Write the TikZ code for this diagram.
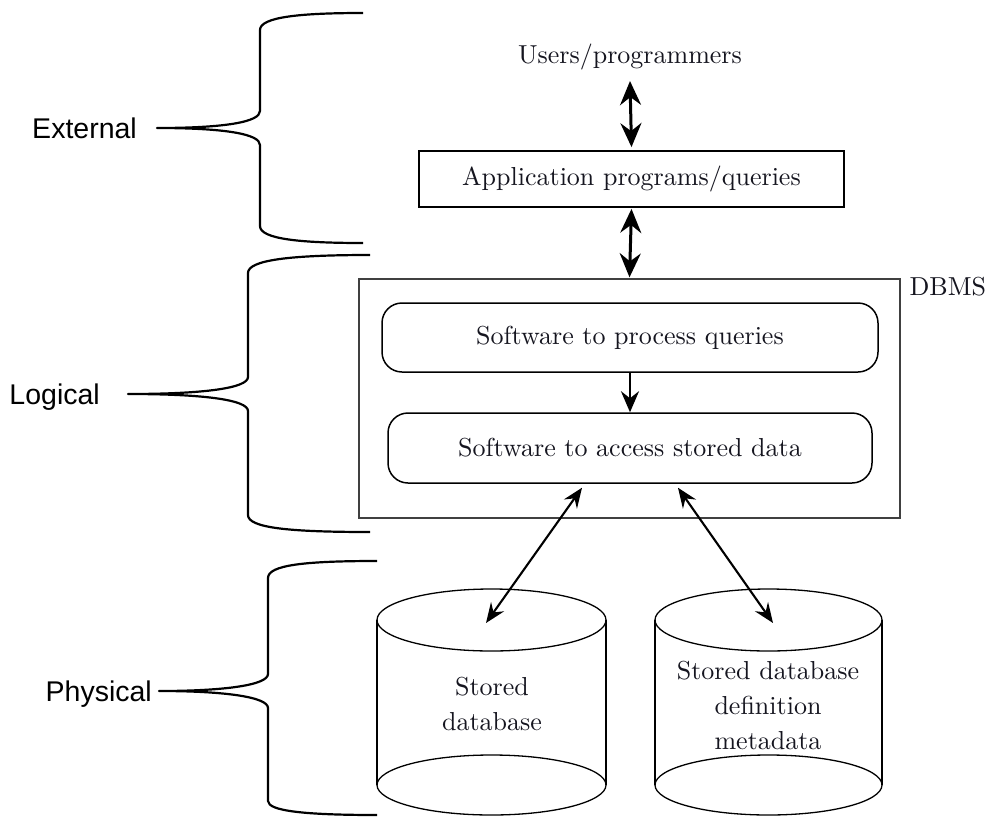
\documentclass[tikz,border=0pt]{standalone}
\usepackage{fontspec}
\newfontfamily\arialfont{Liberation Sans}
\newfontfamily\lmten{lmroman10-regular.otf}
\usetikzlibrary{arrows.meta}
\definecolor{txt}{HTML}{15151F}
\begin{document}
\begin{tikzpicture}[x=1pt,y=-1pt,
  serif/.style={font=\lmten\fontsize{26}{35}\selectfont, text=txt},
  sans/.style={font=\arialfont\fontsize{28.5}{34}\selectfont, inner sep=0pt},
  brace/.style={line width=2.2pt, line join=round},
  varrow/.style={line width=3pt, {Stealth[length=24pt,width=21pt,inset=8pt]}-{Stealth[length=24pt,width=21pt,inset=8pt]}},
  dnarrow/.style={line width=2.8pt, -{Stealth[length=21pt,width=18pt,inset=7pt]}},
  darrow/.style={line width=2.1pt, {Stealth[length=20pt,width=16pt,inset=7pt]}-{Stealth[length=20pt,width=16pt,inset=7pt]}},
  appbox/.style={draw, line width=1.8pt, minimum width=425pt, minimum height=56pt, inner sep=0pt},
  dbmsbox/.style={draw=black!75, line width=1.3pt, minimum width=541pt, minimum height=239pt, inner sep=0pt},
  softbox/.style={draw, rounded corners=20pt, line width=1.5pt, minimum height=69pt, inner sep=0pt},
  cyl/.style={line width=1.3pt}
]
\useasboundingbox (0,0) rectangle (991,817);

% braces and level labels
\node[sans, anchor=base east] (ext) at (137,138) {External};
\node[sans, anchor=base east] (log) at (100,404) {Logical};
\node[sans, anchor=base east] (phy) at (152,701) {Physical};
\coordinate (extTip) at (157,128);
\coordinate (logTip) at (128,394);
\coordinate (phyTip) at (159,691);

\draw[brace] (363,13) .. controls (300,13) and (260,17) .. (260,30) -- (260,111)
  .. controls (260,122) and (225,128) .. (extTip)
  .. controls (225,128) and (260,134) .. (260,145) -- (260,226)
  .. controls (260,239) and (300,243) .. (363,243);
\draw[brace] (370,255) .. controls (290,255) and (248,260) .. (248,273) -- (248,377)
  .. controls (248,388) and (205,394) .. (logTip)
  .. controls (205,394) and (248,400) .. (248,411) -- (248,515)
  .. controls (248,528) and (290,532) .. (370,532);
\draw[brace] (377,561) .. controls (305,561) and (268,565) .. (268,578) -- (268,674)
  .. controls (268,685) and (225,691) .. (phyTip)
  .. controls (225,691) and (268,697) .. (268,708) -- (268,801)
  .. controls (268,811) and (305,815) .. (377,815);

% top part
\node[serif, anchor=base] (users) at (630,63) {Users/programmers};
\node[appbox, serif] (app) at (631.5,179) {Application programs/queries};

% DBMS
\node[dbmsbox] (dbms) at (629.5,398.5) {};
\node[serif, anchor=base west] (dbmslabel) at (906,295) {DBMS};
\node[softbox, serif, minimum width=496pt] (proc) at (630,337.5) {Software to process queries};
\node[softbox, serif, minimum width=484pt, minimum height=70pt] (acc) at (630,448) {Software to access stored data};

% cylinders
\draw[cyl] (491.5,620) ellipse [x radius=114.5pt, y radius=31pt];
\draw[cyl] (491.5,785) ellipse [x radius=114.5pt, y radius=30pt];
\draw[cyl] (377,620) -- (377,785) (606,620) -- (606,785);
\draw[cyl] (768.5,620) ellipse [x radius=113.5pt, y radius=31pt];
\draw[cyl] (768.5,785) ellipse [x radius=113.5pt, y radius=30pt];
\draw[cyl] (655,620) -- (655,785) (882,620) -- (882,785);
\node[serif, align=center] (sdb) at (492,704) {Stored\\database};
\node[serif, align=center] (meta) at (768,705) {Stored database\\definition\\metadata};
\coordinate (t1) at (486,623);
\coordinate (t2) at (773,623);

% connectors
\draw[varrow] ([yshift=-8pt]users.south) -- ([yshift=3pt]app.north);
\draw[varrow] ([yshift=-1pt]app.south) -- ([yshift=1pt]dbms.north);
\draw[dnarrow] (proc.south) -- (acc.north);
\draw[darrow] ([xshift=-48pt,yshift=-4pt]acc.south) -- (t1);
\draw[darrow] ([xshift=48pt,yshift=-4pt]acc.south) -- (t2);
\end{tikzpicture}
\end{document}
